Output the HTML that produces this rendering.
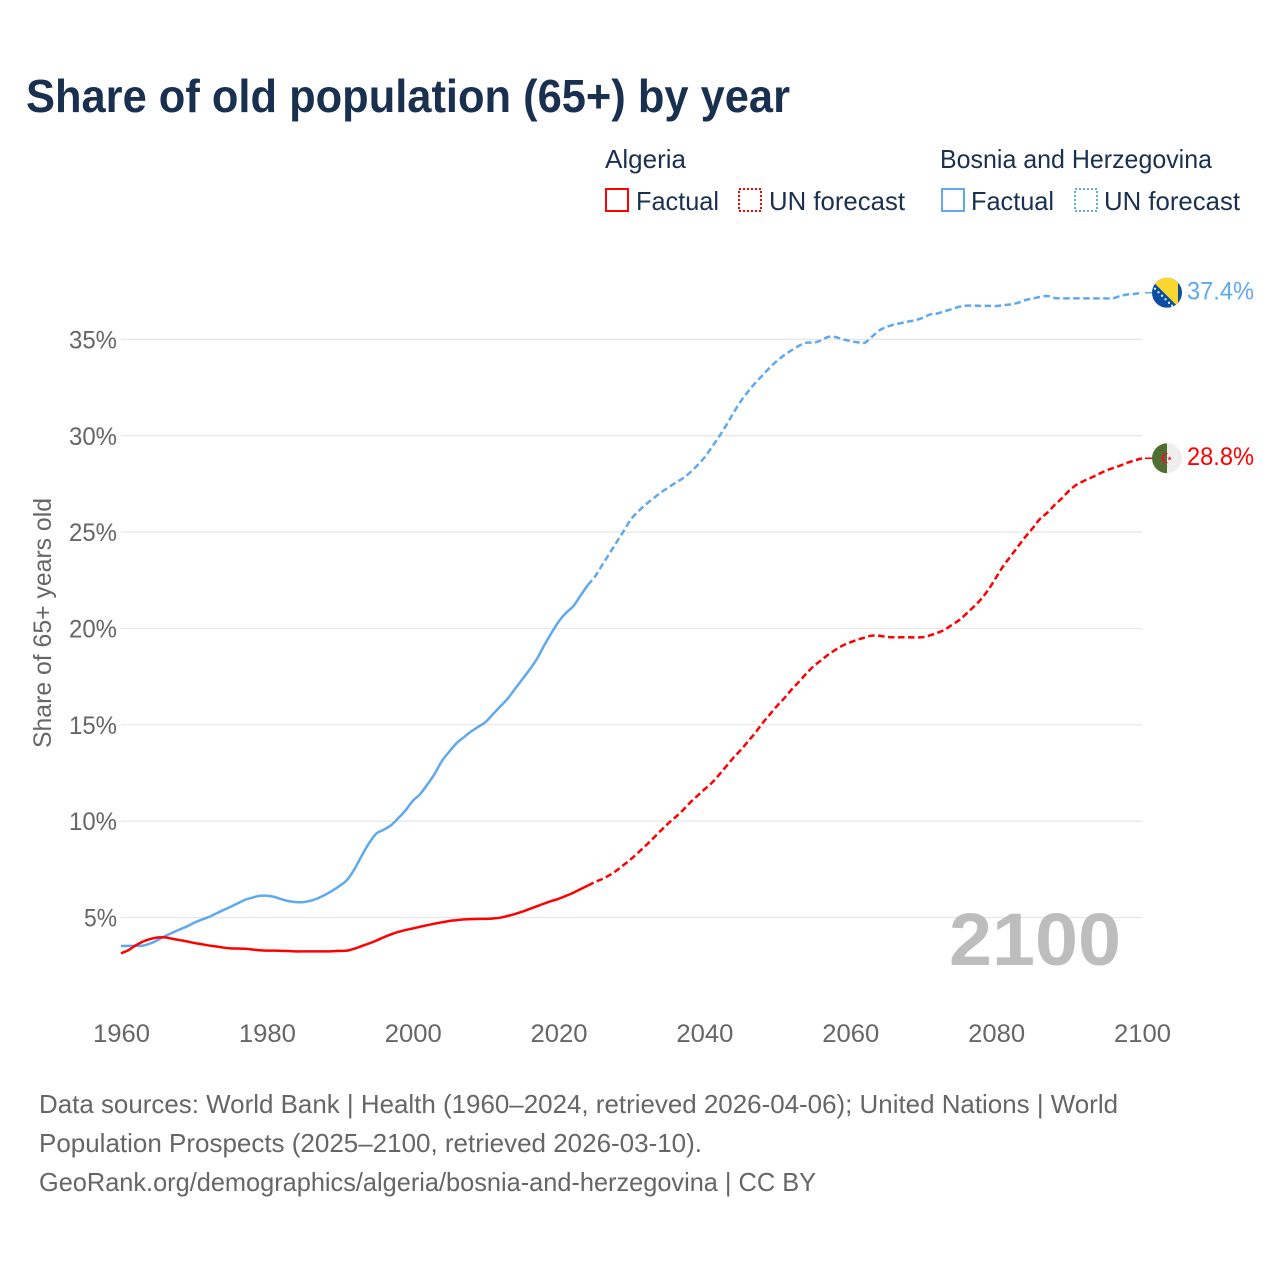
<!DOCTYPE html>
<html lang="en">
<head>
<meta charset="utf-8">
<title>Share of old population (65+) by year</title>
<style>
html,body{margin:0;padding:0;background:#fff;width:1280px;height:1280px;overflow:hidden}
svg{display:block}
text{font-family:"Liberation Sans",sans-serif}
.tick{font-size:25px;fill:#666}
.legend{font-size:26px;fill:#1a3050}
.foot{font-size:26px;fill:#666}
</style>
</head>
<body>
<svg id="chart" xmlns="http://www.w3.org/2000/svg" width="1280" height="1280" viewBox="0 0 1280 1280">
  <rect x="0" y="0" width="1280" height="1280" fill="#fff"/>
  <text x="26" y="112" font-size="46" font-weight="700" fill="#1a3050" textLength="764" lengthAdjust="spacingAndGlyphs">Share of old population (65+) by year</text>

  <g>
    <text class="legend" x="605" y="168" textLength="81" lengthAdjust="spacingAndGlyphs">Algeria</text>
    <rect x="606" y="189" width="22" height="22" fill="none" stroke="#ff0000" stroke-width="2"/>
    <text class="legend" x="636" y="210" textLength="83" lengthAdjust="spacingAndGlyphs">Factual</text>
    <rect x="739" y="189" width="22" height="22" fill="none" stroke="#ff0000" stroke-width="2" stroke-dasharray="2 2"/>
    <text class="legend" x="769" y="210" textLength="136" lengthAdjust="spacingAndGlyphs">UN forecast</text>

    <text class="legend" x="940" y="168" textLength="272" lengthAdjust="spacingAndGlyphs">Bosnia and Herzegovina</text>
    <rect x="942" y="189" width="22" height="22" fill="none" stroke="#5ea9ef" stroke-width="2"/>
    <text class="legend" x="971" y="210" textLength="83" lengthAdjust="spacingAndGlyphs">Factual</text>
    <rect x="1075" y="189" width="22" height="22" fill="none" stroke="#5ea9ef" stroke-width="2" stroke-dasharray="2 2"/>
    <text class="legend" x="1104" y="210" textLength="136" lengthAdjust="spacingAndGlyphs">UN forecast</text>
  </g>

  <g id="grid"></g>
  <g id="yticks"></g>
  <g id="xticks"></g>

  <text transform="translate(51 623) rotate(-90)" text-anchor="middle" font-size="25" fill="#666" textLength="250" lengthAdjust="spacingAndGlyphs">Share of 65+ years old</text>
  <text x="949" y="965" font-size="74" font-weight="700" fill="#bdbdbd" textLength="172" lengthAdjust="spacingAndGlyphs">2100</text>

  <g id="series"></g>

  <clipPath id="flag-clip"><circle cx="0" cy="0" r="15"/></clipPath>
  <g id="flag-algeria">
    <g clip-path="url(#flag-clip)">
      <rect x="-15" y="-15" width="15" height="30" fill="#4f6f32"/>
      <rect x="0" y="-15" width="15" height="30" fill="#eeeeee"/>
      <path d="M1.5 -4.6 A5 5 0 1 0 1.5 4.6 A4 4 0 1 1 1.5 -4.6 Z" fill="#e8112d"/>
      <polygon points="2.6,-2.2 3.2,-0.6 4.9,-0.6 3.5,0.5 4,2.1 2.6,1.1 1.2,2.1 1.7,0.5 0.3,-0.6 2,-0.6" fill="#e8112d"/>
    </g>
  </g>
  <g id="flag-bosnia">
    <g clip-path="url(#flag-clip)">
      <rect x="-15" y="-15" width="30" height="30" fill="#0a4ea2"/>
      <polygon points="-13,-10 -13,-15.5 11,-15.5 11,14" fill="#fcd62f"/>
      <g fill="#ffffff">
        <circle cx="-12" cy="-4" r="1.1"/>
        <circle cx="-8.5" cy="-0.5" r="1.1"/>
        <circle cx="-5" cy="3" r="1.1"/>
        <circle cx="-1.5" cy="6.5" r="1.1"/>
        <circle cx="2" cy="10" r="1.1"/>
        <circle cx="5" cy="13" r="1.1"/>
      </g>
    </g>
  </g>
  <g id="end-labels"></g>

  <g>
    <text class="foot" x="39" y="1113" textLength="1079" lengthAdjust="spacingAndGlyphs">Data sources: World Bank | Health (1960–2024, retrieved 2026-04-06); United Nations | World</text>
    <text class="foot" x="39" y="1152" textLength="663" lengthAdjust="spacingAndGlyphs">Population Prospects (2025–2100, retrieved 2026-03-10).</text>
    <text class="foot" x="39" y="1191" textLength="777" lengthAdjust="spacingAndGlyphs">GeoRank.org/demographics/algeria/bosnia-and-herzegovina | CC BY</text>
  </g>
</svg>

<script>
const yearTickLabels = [1960, 1980, 2000, 2020, 2040, 2060, 2080, 2100];
const percentTickValues = [5, 10, 15, 20, 25, 30, 35];
const factualStartYear = 1960;
const forecastStartYear = 2024;

const algeriaFactual = [3.14,3.3,3.55,3.75,3.88,3.96,3.97,3.9,3.83,3.76,3.68,3.62,3.55,3.5,3.44,3.4,3.39,3.38,3.34,3.3,3.28,3.28,3.27,3.26,3.24,3.24,3.24,3.24,3.24,3.25,3.27,3.28,3.38,3.52,3.65,3.8,3.97,4.12,4.25,4.35,4.43,4.52,4.6,4.68,4.75,4.82,4.86,4.9,4.92,4.93,4.93,4.95,4.99,5.08,5.18,5.3,5.44,5.58,5.72,5.85,5.97,6.12,6.28,6.47,6.65];
const algeriaForecast = [6.65,6.85,7.0,7.2,7.45,7.75,8.05,8.4,8.75,9.12,9.5,9.87,10.2,10.55,10.95,11.3,11.65,11.98,12.4,12.85,13.3,13.7,14.15,14.6,15.1,15.55,16.0,16.4,16.85,17.25,17.67,18.05,18.35,18.65,18.9,19.12,19.28,19.42,19.53,19.63,19.62,19.56,19.54,19.54,19.54,19.54,19.55,19.65,19.78,19.95,20.2,20.45,20.8,21.15,21.55,22.05,22.65,23.25,23.75,24.25,24.75,25.2,25.68,26.0,26.4,26.75,27.15,27.45,27.65,27.82,28.0,28.18,28.32,28.45,28.6,28.72,28.83];

const bosniaFactual = [3.52,3.53,3.53,3.54,3.65,3.82,4.03,4.2,4.37,4.53,4.72,4.88,5.02,5.2,5.38,5.55,5.73,5.92,6.03,6.12,6.13,6.07,5.95,5.85,5.8,5.8,5.87,6.0,6.18,6.4,6.65,6.95,7.5,8.2,8.85,9.35,9.55,9.78,10.15,10.55,11.05,11.4,11.9,12.45,13.12,13.6,14.04,14.35,14.65,14.9,15.15,15.55,15.95,16.35,16.85,17.35,17.85,18.4,19.1,19.75,20.35,20.8,21.15,21.7,22.25];
const bosniaForecast = [22.25,22.7,23.3,23.9,24.5,25.1,25.7,26.1,26.45,26.75,27.05,27.3,27.55,27.78,28.08,28.45,28.87,29.4,29.95,30.55,31.2,31.8,32.3,32.75,33.15,33.55,33.9,34.2,34.45,34.68,34.83,34.83,34.95,35.13,35.12,35.0,34.92,34.85,34.83,35.15,35.47,35.65,35.77,35.85,35.93,36.0,36.13,36.3,36.35,36.47,36.58,36.7,36.75,36.75,36.74,36.74,36.73,36.78,36.82,36.9,37.04,37.12,37.2,37.25,37.15,37.13,37.13,37.13,37.13,37.13,37.13,37.13,37.13,37.25,37.33,37.36,37.42];

const endValueLabels = ['28.8%', '37.4%'];

const RED = '#ff0000';
const BLUE = '#5ea9ef';
const SVGNS = 'http://www.w3.org/2000/svg';

function xScale(year) {
  return 121 + (year - 1960) * (1142 - 121) / 140;
}
function yScale(pct) {
  return 917.5 - (pct - 5) * 19.27;
}
function linePath(values, startYear) {
  const pts = values.map(function (v, i) {
    return [xScale(startYear + i), yScale(v)];
  });
  let d = 'M' + pts[0][0].toFixed(2) + ' ' + pts[0][1].toFixed(2);
  for (let i = 0; i < pts.length - 1; i++) {
    const p0 = pts[Math.max(i - 1, 0)];
    const p1 = pts[i];
    const p2 = pts[i + 1];
    const p3 = pts[Math.min(i + 2, pts.length - 1)];
    d += ' C' + (p1[0] + (p2[0] - p0[0]) / 6).toFixed(2) + ' ' + (p1[1] + (p2[1] - p0[1]) / 6).toFixed(2) +
         ' ' + (p2[0] - (p3[0] - p1[0]) / 6).toFixed(2) + ' ' + (p2[1] - (p3[1] - p1[1]) / 6).toFixed(2) +
         ' ' + p2[0].toFixed(2) + ' ' + p2[1].toFixed(2);
  }
  return d;
}

const gridGroup = document.getElementById('grid');
const yTickGroup = document.getElementById('yticks');
const xTickGroup = document.getElementById('xticks');
const seriesGroup = document.getElementById('series');
const labelGroup = document.getElementById('end-labels');

percentTickValues.forEach(function (p) {
  const line = document.createElementNS(SVGNS, 'line');
  
  
  line.setAttribute('x1', xScale(1960));
  line.setAttribute('x2', xScale(2100));
  line.setAttribute('y1', yScale(p));
  line.setAttribute('y2', yScale(p));
  line.setAttribute('stroke', '#e6e6e6');
  line.setAttribute('stroke-width', '1.2');
  gridGroup.appendChild(line);

  const label = document.createElementNS(SVGNS, 'text');
  
  
  label.setAttribute('class', 'tick');
  label.setAttribute('x', 117);
  label.setAttribute('y', yScale(p) + 9);
  label.setAttribute('text-anchor', 'end');
  label.setAttribute('textLength', p < 10 ? '33' : '48');
  label.setAttribute('lengthAdjust', 'spacingAndGlyphs');
  label.textContent = p + '%';
  yTickGroup.appendChild(label);
});

yearTickLabels.forEach(function (year) {
  const label = document.createElementNS(SVGNS, 'text');
  
  
  label.setAttribute('class', 'tick');
  label.setAttribute('x', xScale(year) + 0.5);
  label.setAttribute('y', 1042);
  label.setAttribute('text-anchor', 'middle');
  label.setAttribute('textLength', '57');
  label.setAttribute('lengthAdjust', 'spacingAndGlyphs');
  label.textContent = year;
  xTickGroup.appendChild(label);
});

function drawLine(values, startYear, color, dashed, name) {
  const path = document.createElementNS(SVGNS, 'path');
  
  
  path.setAttribute('d', linePath(values, startYear));
  path.setAttribute('fill', 'none');
  path.setAttribute('stroke', color);
  path.setAttribute('stroke-width', '2.5');
  path.setAttribute('stroke-linejoin', 'round');
  if (dashed) path.setAttribute('stroke-dasharray', '6.5 3.5');
  seriesGroup.appendChild(path);
}

drawLine(bosniaFactual, factualStartYear, BLUE, false, 'bosnia-factual-line');
drawLine(bosniaForecast, forecastStartYear, BLUE, true, 'bosnia-forecast-line');
drawLine(algeriaFactual, factualStartYear, RED, false, 'algeria-factual-line');
drawLine(algeriaForecast, forecastStartYear, RED, true, 'algeria-forecast-line');

function drawEnd(values, color, text, flagId, name) {
  const last = values[values.length - 1];
  const y = yScale(last);
  const flagX = 1167;

  const connector = document.createElementNS(SVGNS, 'line');
  
  
  connector.setAttribute('x1', xScale(2100) + 3);
  connector.setAttribute('x2', flagX);
  connector.setAttribute('y1', y);
  connector.setAttribute('y2', y);
  connector.setAttribute('stroke', color);
  connector.setAttribute('stroke-width', '1.5');
  seriesGroup.appendChild(connector);

  document.getElementById(flagId).setAttribute('transform', 'translate(' + flagX + ' ' + y + ')');

  const label = document.createElementNS(SVGNS, 'text');
  
  
  label.setAttribute('x', 1187);
  label.setAttribute('y', y + 6.5);
  label.setAttribute('font-size', '25');
  label.setAttribute('fill', color);
  label.setAttribute('textLength', '67');
  label.setAttribute('lengthAdjust', 'spacingAndGlyphs');
  label.textContent = text;
  labelGroup.appendChild(label);
}

drawEnd(algeriaForecast, RED, endValueLabels[0], 'flag-algeria', 'algeria');
drawEnd(bosniaForecast, BLUE, endValueLabels[1], 'flag-bosnia', 'bosnia');
</script>
</body>
</html>
